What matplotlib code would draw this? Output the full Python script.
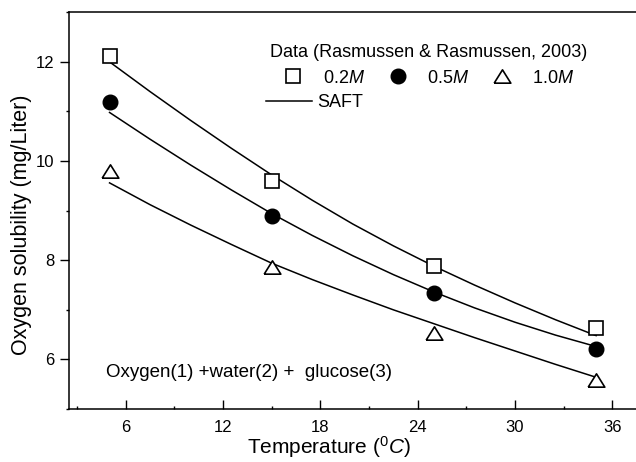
import matplotlib
matplotlib.use("Agg")
import matplotlib.pyplot as plt
from matplotlib.lines import Line2D
from matplotlib.ticker import MultipleLocator

plt.rcParams["font.family"] = ["Liberation Sans", "DejaVu Sans"]
plt.rcParams["mathtext.fontset"] = "custom"
plt.rcParams["mathtext.rm"] = "Liberation Sans"
plt.rcParams["mathtext.it"] = "Liberation Sans:italic"

# measured solubility (Rasmussen & Rasmussen, 2003)
temp_data = [5, 15, 25, 35]
sol_02 = [12.12, 9.59, 7.88, 6.64]
sol_05 = [11.20, 8.89, 7.33, 6.21]
sol_10 = [9.80, 7.86, 6.54, 5.58]

# SAFT curves
temp_saft = [5, 7.5, 10, 12.5, 15, 17.5, 20, 22.5, 25, 27.5, 30, 32.5, 35]
saft_02 = [12.00, 11.40, 10.82, 10.26, 9.72, 9.21, 8.73, 8.29, 7.88, 7.50, 7.14, 6.80, 6.48]
saft_05 = [10.98, 10.44, 9.92, 9.42, 8.94, 8.50, 8.09, 7.71, 7.36, 7.04, 6.75, 6.49, 6.26]
saft_10 = [9.56, 9.12, 8.71, 8.32, 7.94, 7.61, 7.30, 7.00, 6.72, 6.44, 6.17, 5.90, 5.64]

labels = ["0.2$M$", "0.5$M$", "1.0$M$"]

# wide, flat triangle like the original symbol
tri = [(-1.0, -0.8), (1.0, -0.8), (0.0, 0.8), (-1.0, -0.8)]

fig = plt.figure(figsize=(6.36, 4.62), dpi=100)
ax = fig.add_axes([0.1085, 0.1147, 0.8915, 0.8587])

for y in [saft_02, saft_05, saft_10]:
    ax.plot(temp_saft, y, color="black", lw=1.1)

h1, = ax.plot(temp_data, sol_02, ls="none", marker="s", ms=9.5, mfc="white",
              mec="black", mew=1.2)
h2, = ax.plot(temp_data, sol_05, ls="none", marker="o", ms=10.5, mfc="black",
              mec="black")
h3, = ax.plot(temp_data, sol_10, ls="none", marker=tri, ms=12, mfc="white",
              mec="black", mew=1.2)

ax.set_xlim(2.5, 37.46)
ax.set_ylim(5, 13)
ax.xaxis.set_major_locator(MultipleLocator(6))
ax.xaxis.set_minor_locator(MultipleLocator(3))
ax.yaxis.set_major_locator(MultipleLocator(2))
ax.yaxis.set_minor_locator(MultipleLocator(1))
ax.tick_params(axis="x", which="major", direction="in", length=6.5, width=1,
               pad=8, labelsize=12)
ax.tick_params(axis="x", which="minor", direction="in", length=2.2, width=1)
ax.tick_params(axis="y", which="major", direction="out", length=6.5, width=1,
               pad=4, labelsize=12)
ax.tick_params(axis="y", which="minor", direction="out", length=2.2, width=1)
ax.spines["right"].set_visible(False)
for s in ["left", "top", "bottom"]:
    ax.spines[s].set_linewidth(1.1)

ax.set_xlabel("Temperature ($^{\\rm 0}C$)", fontsize=15)
ax.set_ylabel("Oxygen solubility (mg/Liter)", fontsize=15.5)
ax.xaxis.set_label_coords(0.458, -0.063)
ax.yaxis.set_label_coords(-0.066, 0.465)

ax.text(4.81, 5.74, "Oxygen(1) +water(2) +  glucose(3)", fontsize=13.5,
        ha="left", va="center")

leg1 = ax.legend([h1, h2, h3], labels, title="Data (Rasmussen & Rasmussen, 2003)",
                 ncol=3, frameon=False, fontsize=13, title_fontsize=13,
                 handlelength=1.0, handletextpad=1.15, columnspacing=1.3,
                 loc="center", bbox_to_anchor=(0.635, 0.867), borderpad=0,
                 borderaxespad=0)
ax.add_artist(leg1)
saft = Line2D([], [], color="black", lw=1.1)
ax.legend([saft], ["SAFT"], frameon=False, fontsize=13, handlelength=2.55,
          handletextpad=0.3, loc="center left", bbox_to_anchor=(0.347, 0.772),
          borderpad=0, borderaxespad=0)

fig.savefig("out.png", dpi=100)
